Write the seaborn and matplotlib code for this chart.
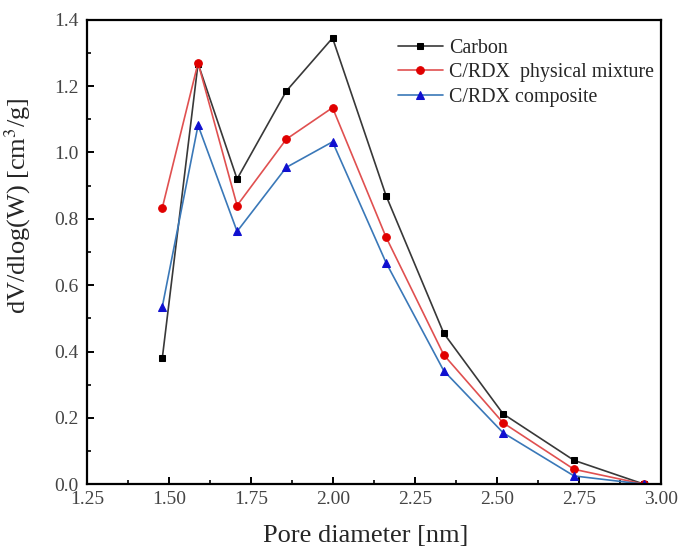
import numpy as np
import pandas as pd
import matplotlib
matplotlib.use("Agg")
import matplotlib.pyplot as plt
from matplotlib.ticker import MultipleLocator, AutoMinorLocator, FormatStrFormatter
import seaborn as sns

# Pore diameter (nm)
pore_diameter = [1.479, 1.588, 1.707, 1.857, 1.998, 2.161, 2.337, 2.518, 2.734, 2.948]

# dV/dlog(W) (cm3/g)
carbon = [0.380, 1.268, 0.920, 1.185, 1.345, 0.870, 0.455, 0.212, 0.072, 0.000]
physical_mixture = [0.833, 1.270, 0.840, 1.040, 1.135, 0.745, 0.390, 0.185, 0.045, 0.000]
composite = [0.535, 1.082, 0.762, 0.955, 1.032, 0.668, 0.342, 0.155, 0.025, 0.000]

series_names = ["Carbon", "C/RDX  physical mixture", "C/RDX composite"]

df = pd.DataFrame({
    "d": pore_diameter * 3,
    "v": carbon + physical_mixture + composite,
    "sample": np.repeat(series_names, len(pore_diameter)),
})

sns.set_theme(style="ticks")
plt.rcParams["font.family"] = ["Liberation Serif", "DejaVu Serif"]
plt.rcParams["mathtext.fontset"] = "stix"

fig = plt.figure(figsize=(6.81, 5.49), dpi=100)
ax = fig.add_axes([0.128, 0.118, 0.843, 0.846])

styles = {
    "Carbon": dict(color="#383838", marker="s", mfc="black", mec="black", ms=5),
    "C/RDX  physical mixture": dict(color="#e05050", marker="o", mfc="#e00000", mec="#e00000", ms=5.5),
    "C/RDX composite": dict(color="#3a78b8", marker="^", mfc="#1010d0", mec="#1010d0", ms=6),
}

for name in series_names:
    st = styles[name]
    sns.lineplot(
        data=df[df["sample"] == name], x="d", y="v", ax=ax,
        color=st["color"], marker=st["marker"], markersize=st["ms"],
        markerfacecolor=st["mfc"], markeredgecolor=st["mec"],
        linewidth=1.2, label=name, estimator=None, sort=False,
    )

ax.set_xlim(1.25, 3.00)
ax.set_ylim(0.0, 1.4)
ax.xaxis.set_major_locator(MultipleLocator(0.25))
ax.yaxis.set_major_locator(MultipleLocator(0.2))
ax.xaxis.set_minor_locator(AutoMinorLocator(2))
ax.yaxis.set_minor_locator(AutoMinorLocator(2))
ax.xaxis.set_major_formatter(FormatStrFormatter("%.2f"))
ax.yaxis.set_major_formatter(FormatStrFormatter("%.1f"))

for sp in ax.spines.values():
    sp.set_linewidth(1.6)
    sp.set_color("black")
ax.tick_params(which="major", direction="in", length=5, width=1.4, labelsize=14,
               colors="black", labelcolor="#444444", pad=6)
ax.tick_params(which="minor", direction="in", length=3, width=1.2, colors="black")
ax.tick_params(axis="x", which="major", pad=5)

ax.set_xlabel("Pore diameter [nm]", fontsize=19)
ax.set_ylabel(r"dV/dlog(W) [cm$^3$/g]", fontsize=19)
ax.xaxis.set_label_coords(0.485, -0.088)
ax.yaxis.set_label_coords(-0.094, 0.60)

leg = ax.legend(loc="upper left", bbox_to_anchor=(0.52, 0.985), frameon=False,
                fontsize=14.4, handlelength=2.25, handletextpad=0.3, labelspacing=0.28,
                borderaxespad=0.2)

fig.savefig("out.png", dpi=100, facecolor="white")
